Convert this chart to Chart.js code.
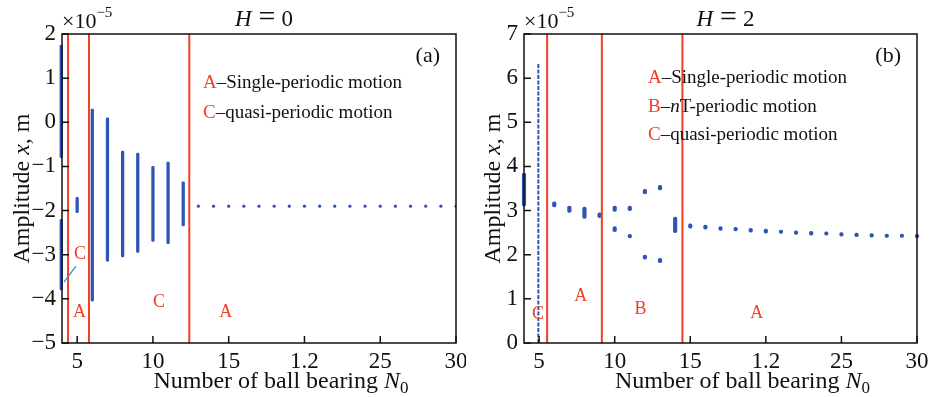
<!DOCTYPE html>
<html>
<head>
<meta charset="utf-8">
<script src="https://cdn.jsdelivr.net/npm/chart.js@4.4.1/dist/chart.umd.min.js"></script>
<style>
  html, body { margin: 0; padding: 0; background: #fff; }
  #wrap { display: flex; width: 932px; height: 397px; }
  .box { width: 466px; height: 397px; }
</style>
</head>
<body>
<div id="wrap">
  <div class="box"><canvas id="chartA" width="466" height="397"></canvas></div>
  <div class="box"><canvas id="chartB" width="466" height="397"></canvas></div>
</div>
<script>
const xTicks = [5, 10, 15, 20, 25, 30];
const xTickLabels = ["5", "10", "15", "1.2", "25", "30"];

// (a) H = 0 : vertical bands of amplitude and single points
const aBandX = [3.95, 3.95, 5, 6, 7, 8, 9, 10, 11, 12];
const aBandLow = [-0.8, -3.8, -2.05, -4.05, -3.15, -3.05, -2.95, -2.7, -2.75, -2.35];
const aBandHigh = [1.75, -2.2, -1.7, 0.3, 0.1, -0.65, -0.7, -1.0, -0.9, -1.35];
const aDotX = [13, 14, 15, 16, 17, 18, 19, 20, 21, 22, 23, 24, 25, 26, 27, 28, 29, 30];
const aDotY = [-1.9, -1.9, -1.9, -1.9, -1.9, -1.9, -1.9, -1.9, -1.9, -1.9, -1.9, -1.9, -1.9, -1.9, -1.9, -1.9, -1.9, -1.9];
const aBounds = [4.4, 5.78, 12.4];

// (b) H = 2
const bBandX = [4, 6, 7, 8, 9, 10, 10, 11, 11, 12, 12, 13, 13, 14, 15, 16, 17, 18, 19, 20, 21, 22, 23, 24, 25, 26, 27, 28, 29, 30];
const bBandLow = [3.1, 3.08, 2.96, 2.82, 2.84, 2.98, 2.52, 3.0, 2.38, 3.38, 1.9, 3.47, 1.82, 2.5, 2.6, 2.58, 2.55, 2.54, 2.51, 2.49, 2.48, 2.46, 2.44, 2.44, 2.42, 2.41, 2.4, 2.39, 2.39, 2.38];
const bBandHigh = [3.85, 3.2, 3.1, 3.08, 2.95, 3.1, 2.64, 3.1, 2.46, 3.48, 1.99, 3.57, 1.92, 2.85, 2.7, 2.67, 2.64, 2.62, 2.6, 2.58, 2.56, 2.54, 2.53, 2.52, 2.5, 2.49, 2.48, 2.47, 2.47, 2.46];
const bDashX = [4.95, 4.95];
const bDashY = [0, 6.35];
const bBounds = [5.53, 9.15, 14.48];

const BLUE = "#3054b6";
const RED = "#ef4026";
const SERIF = '"Liberation Serif", "Times New Roman", serif';

function drawParts(ctx, parts, x, y, align) {
  let total = 0;
  parts.forEach(p => { ctx.font = p.font; p.w = ctx.measureText(p.t).width; total += p.w + (p.gap || 0); });
  let cx = align === "center" ? x - total / 2 : align === "right" ? x - total : x;
  ctx.textAlign = "left";
  ctx.textBaseline = "alphabetic";
  parts.forEach(p => {
    cx += (p.gap || 0);
    ctx.font = p.font;
    ctx.fillStyle = p.color || "#111";
    ctx.fillText(p.t, cx, y + (p.dy || 0));
    cx += p.w;
  });
}

const f = (size, style) => (style ? style + " " : "") + size + "px " + SERIF;

function decor(cfg) {
  return {
    id: "decor",
    afterDatasetsDraw(chart) {
      const {ctx, chartArea: a, scales: {x, y}} = chart;
      ctx.save();
      // regime boundaries
      ctx.strokeStyle = RED;
      ctx.lineWidth = 2;
      cfg.bounds.forEach(v => {
        const px = x.getPixelForValue(v);
        ctx.beginPath(); ctx.moveTo(px, a.top); ctx.lineTo(px, a.bottom); ctx.stroke();
      });
      // frame + inward ticks
      ctx.strokeStyle = "#111";
      ctx.lineWidth = 1.5;
      ctx.strokeRect(a.left, a.top, a.right - a.left, a.bottom - a.top);
      ctx.beginPath();
      y.ticks.forEach(t => { const py = y.getPixelForValue(t.value); ctx.moveTo(a.left, py); ctx.lineTo(a.left + 7, py); });
      x.ticks.forEach(t => { const px = x.getPixelForValue(t.value); ctx.moveTo(px, a.bottom); ctx.lineTo(px, a.bottom - 7); });
      ctx.stroke();
      // pointer line
      if (cfg.pointer) {
        ctx.strokeStyle = "#2c8fd6";
        ctx.lineWidth = 1.3;
        ctx.beginPath();
        ctx.moveTo(x.getPixelForValue(cfg.pointer[0]), y.getPixelForValue(cfg.pointer[1]));
        ctx.lineTo(x.getPixelForValue(cfg.pointer[2]), y.getPixelForValue(cfg.pointer[3]));
        ctx.stroke();
      }
      // region labels
      ctx.fillStyle = RED;
      ctx.font = f(18);
      ctx.textAlign = "center";
      ctx.textBaseline = "middle";
      cfg.regions.forEach(r => ctx.fillText(r[0], x.getPixelForValue(r[1]), y.getPixelForValue(r[2])));
      // legend text
      cfg.legend.forEach((parts, i) => drawParts(ctx, parts, cfg.legendX, cfg.legendY[i], "left"));
      // panel tag
      drawParts(ctx, [{t: cfg.tag, font: f(22)}], a.right - 16, 62, "right");
      // title
      drawParts(ctx, [
        {t: "H", font: f(23, "italic")},
        {t: "=", font: f(30), gap: 7},
        {t: cfg.h, font: f(23), gap: 6}
      ], (a.left + a.right) / 2 + 5, 26, "center");
      // multiplier
      drawParts(ctx, [
        {t: "×10", font: f(22)},
        {t: "−5", font: f(15), dy: -11}
      ], a.left, 28, "left");
      // x title
      drawParts(ctx, [
        {t: "Number of ball bearing ", font: f(24)},
        {t: "N", font: f(24, "italic")},
        {t: "0", font: f(17), dy: 5}
      ], (a.left + a.right) / 2 + 22, 388, "center");
      // y title
      ctx.save();
      ctx.translate(cfg.yTitleX, (a.top + a.bottom) / 2);
      ctx.rotate(-Math.PI / 2);
      drawParts(ctx, [
        {t: "Amplitude ", font: f(24)},
        {t: "x", font: f(24, "italic")},
        {t: ", m", font: f(24)}
      ], 0, 8, "center");
      ctx.restore();
      ctx.restore();
    }
  };
}

function makeChart(id, cfg, datasets) {
  return new Chart(document.getElementById(id), {
    type: "bar",
    data: {datasets},
    options: {
      responsive: false,
      animation: false,
      layout: {padding: {top: 34, right: cfg.padRight, left: 0, bottom: 0}},
      plugins: {legend: {display: false}, tooltip: {enabled: false}},
      scales: {
        x: {
          type: "linear", min: 4, max: 30, offset: false,
          grid: {display: false, drawTicks: false},
          border: {display: false},
          afterBuildTicks: s => { s.ticks = xTicks.map(v => ({value: v})); },
          afterFit: s => { s.height = 54; s.paddingLeft = 0; s.paddingRight = 0; },
          ticks: {
            color: "#111", padding: 5, maxRotation: 0,
            font: {family: SERIF, size: 23},
            callback: v => xTickLabels[xTicks.indexOf(v)]
          }
        },
        y: {
          min: cfg.yMin, max: cfg.yMax,
          grid: {display: false, drawTicks: false},
          border: {display: false},
          afterFit: s => { s.width = cfg.yWidth; s.paddingTop = 0; s.paddingBottom = 0; },
          ticks: {
            stepSize: 1, color: "#111", padding: 6,
            font: {family: SERIF, size: 23},
            callback: v => String(v).replace("-", "−")
          }
        }
      }
    },
    plugins: [decor(cfg)]
  });
}

makeChart("chartA", {
  yMin: -5, yMax: 2, yWidth: 62, padRight: 10, bounds: aBounds, h: "0", tag: "(a)",
  yTitleX: 21, legendX: 203, legendY: [88, 118],
  pointer: [4.92, -3.26, 4.13, -3.62],
  regions: [["C", 5.18, -3.0], ["A", 5.15, -4.3], ["C", 10.4, -4.08], ["A", 14.8, -4.3]],
  legend: [
    [{t: "A", font: f(19), color: RED}, {t: "–Single-periodic motion", font: f(19)}],
    [{t: "C", font: f(19), color: RED}, {t: "–quasi-periodic motion", font: f(19)}]
  ]
}, [
  {
    type: "bar",
    data: aBandX.map((x, i) => ({x, y: [aBandLow[i], aBandHigh[i]]})),
    backgroundColor: BLUE, barThickness: 2.6, borderSkipped: false, borderRadius: 1.3, clip: false
  },
  {
    type: "scatter",
    data: aDotX.map((x, i) => ({x, y: aDotY[i]})),
    backgroundColor: BLUE, borderWidth: 0, pointRadius: 1.6
  }
]);

makeChart("chartB", {
  yMin: 0, yMax: 7, yWidth: 58, padRight: 15, bounds: bBounds, h: "2", tag: "(b)",
  yTitleX: 26, legendX: 182, legendY: [83, 112, 140],
  pointer: null,
  regions: [["C", 4.92, 0.66], ["A", 7.75, 1.07], ["B", 11.7, 0.77], ["A", 19.4, 0.68]],
  legend: [
    [{t: "A", font: f(19), color: RED}, {t: "–Single-periodic motion", font: f(19)}],
    [{t: "B", font: f(19), color: RED}, {t: "–", font: f(19)}, {t: "n", font: f(19, "italic")}, {t: "T-periodic motion", font: f(19)}],
    [{t: "C", font: f(19), color: RED}, {t: "–quasi-periodic motion", font: f(19)}]
  ]
}, [
  {
    type: "bar",
    data: bBandX.map((x, i) => ({x, y: [bBandLow[i], bBandHigh[i]]})),
    backgroundColor: BLUE, barThickness: 3.5, borderSkipped: false, borderRadius: 2, clip: false
  },
  {
    type: "line",
    data: bDashX.map((x, i) => ({x, y: bDashY[i]})),
    borderColor: BLUE, borderWidth: 2, borderDash: [4, 1.5], pointRadius: 0, clip: false
  }
]);
</script>
</body>
</html>
